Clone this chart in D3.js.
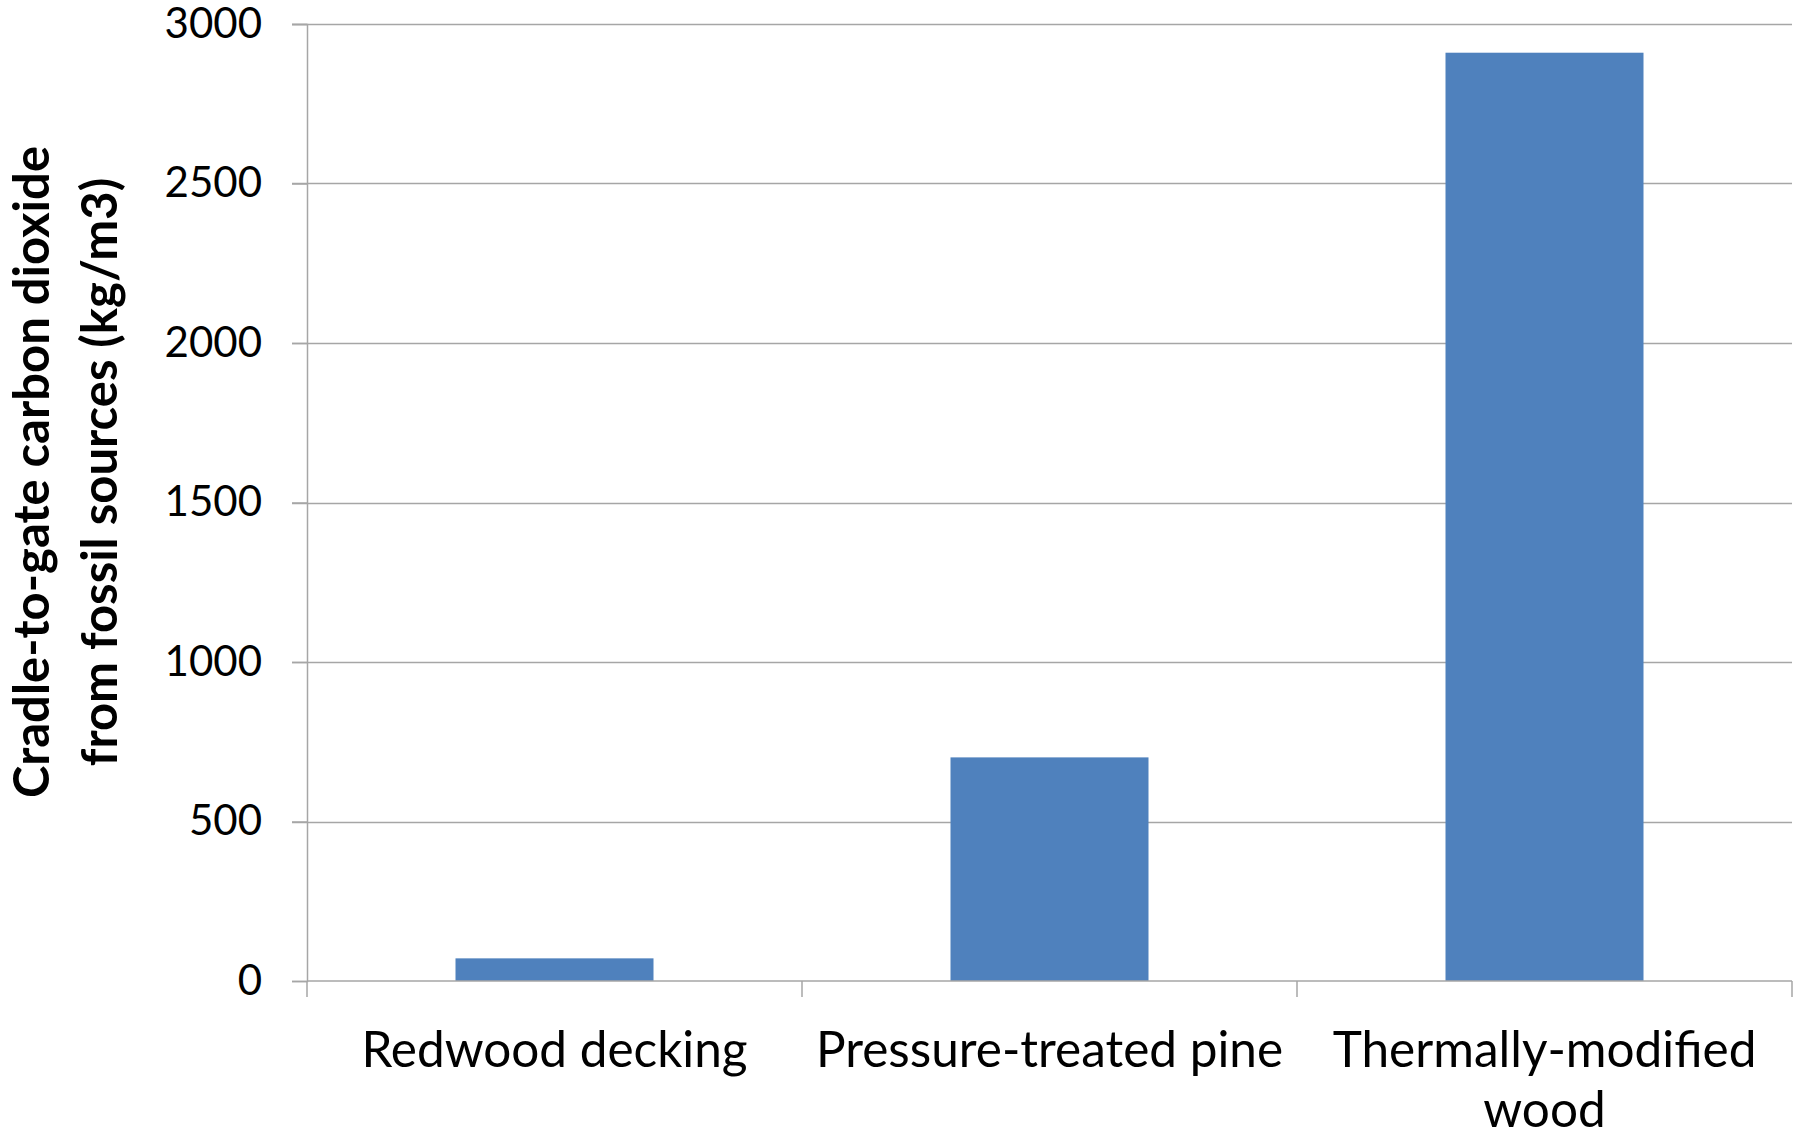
<!DOCTYPE html>
<html>
<head>
<meta charset="utf-8">
<script src="https://cdn.jsdelivr.net/npm/d3@7"></script>
<style>
  html, body { margin: 0; padding: 0; background: #fff; }
  svg { display: block; }
  text { font-family: Lato, "Open Sans", sans-serif; fill: #000; }
</style>
</head>
<body>
<svg id="chart" width="1805" height="1136"></svg>
<script>
const categories = ["Redwood decking", "Pressure-treated pine", "Thermally-modified wood"];
const categoryLines = [["Redwood decking"], ["Pressure-treated pine"], ["Thermally-modified", "wood"]];
const values = [71, 701, 2910];
const yTicks = [0, 500, 1000, 1500, 2000, 2500, 3000];
const yTitleLines = ["Cradle-to-gate carbon dioxide", "from fossil sources (kg/m3)"];

(function () {
const svg = d3.select("#chart");
const mLeft = 307, mRight = 1792, mTop = 24, mBottom = 981;
const gridColor = "#a6a6a6";

const x = d3.scaleBand().domain(categories).range([mLeft, mRight]).paddingInner(0.6).paddingOuter(0.3);
const xb = d3.scaleBand().domain(categories).range([mLeft, mRight]).padding(0);
const y = d3.scaleLinear().domain([0, 3000]).range([mBottom, mTop]);

// gridlines
svg.append("g").selectAll("line").data(yTicks.filter(d => d > 0)).join("line")
  .attr("x1", mLeft - 15).attr("x2", mRight)
  .attr("y1", d => Math.round(y(d)) + 0.5).attr("y2", d => Math.round(y(d)) + 0.5)
  .attr("stroke", gridColor).attr("stroke-width", 1.5);

// bars
svg.append("g").selectAll("rect").data(values).join("rect")
  .attr("x", (d, i) => x(categories[i]))
  .attr("width", x.bandwidth())
  .attr("y", d => y(d))
  .attr("height", d => y(0) - y(d))
  .attr("fill", "#4f81bd");

// y axis
const yAxis = svg.append("g").attr("transform", `translate(${mLeft},0)`)
  .call(d3.axisLeft(y).tickValues(yTicks).tickSize(15).tickPadding(30).tickFormat(d3.format("d")));
yAxis.select(".domain").attr("stroke", gridColor).attr("stroke-width", 1.5);
yAxis.selectAll(".tick line").attr("stroke", gridColor).attr("stroke-width", 1.5);
yAxis.selectAll(".tick text").attr("font-size", 42).attr("font-family", "Lato, sans-serif").attr("fill", "#000");

// x axis
const xAxisG = svg.append("g").attr("transform", `translate(0,${mBottom})`);
xAxisG.append("line").attr("x1", mLeft).attr("x2", mRight).attr("y1", 0).attr("y2", 0)
  .attr("stroke", gridColor).attr("stroke-width", 1.5);
const boundaries = categories.map(c => xb(c)).concat([mRight]);
xAxisG.selectAll("line.tk").data(boundaries).join("line").attr("class", "tk")
  .attr("x1", d => d).attr("x2", d => d).attr("y1", 0).attr("y2", 16)
  .attr("stroke", gridColor).attr("stroke-width", 1.5);

const labels = svg.append("g").selectAll("text").data(categoryLines).join("text")
  .attr("text-anchor", "middle")
  .attr("font-size", 49.5)
  .attr("x", (d, i) => xb(categories[i]) + xb.bandwidth() / 2)
  .attr("y", 1067);
labels.selectAll("tspan").data(d => d).join("tspan")
  .attr("x", function() { return d3.select(this.parentNode).attr("x"); })
  .attr("dy", (d, i) => i === 0 ? 0 : 60)
  .text(d => d);

// y title
const yt = svg.append("text")
  .attr("transform", "translate(0,472) rotate(-90)")
  .attr("text-anchor", "middle")
  .attr("font-size", 49)
  .attr("font-weight", "bold");
yt.selectAll("tspan").data(yTitleLines).join("tspan")
  .attr("x", 0)
  .attr("y", (d, i) => i === 0 ? 49 : 117)
  .text(d => d);
})();
</script>
</body>
</html>
